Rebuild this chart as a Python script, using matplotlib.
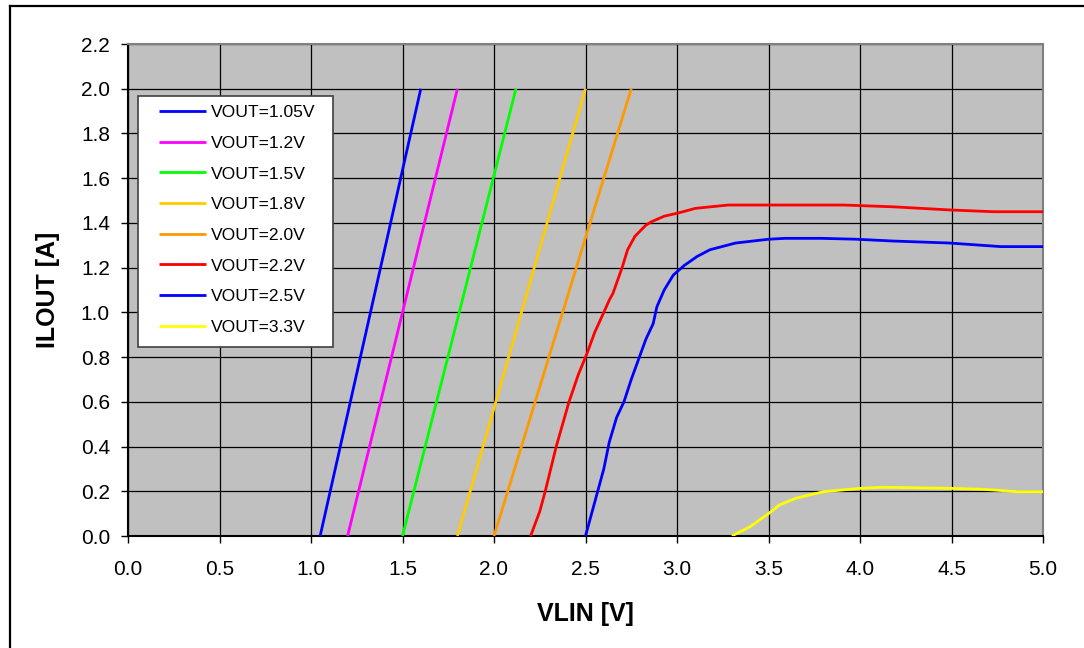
import matplotlib.pyplot as plt
from matplotlib.lines import Line2D
from matplotlib.patches import Rectangle

plt.rcParams['font.family'] = ['Liberation Sans', 'DejaVu Sans']

labels = ['VOUT=1.05V', 'VOUT=1.2V', 'VOUT=1.5V', 'VOUT=1.8V',
          'VOUT=2.0V', 'VOUT=2.2V', 'VOUT=2.5V', 'VOUT=3.3V']
colors = ['#0000FF', '#FF00FF', '#00FF00', '#FFCC00',
          '#FF9900', '#FF0000', '#0000FF', '#FFFF00']

# straight ramps (VLIN, ILOUT)
v105 = [1.05, 1.60]
i105 = [0.0, 2.0]
v12 = [1.20, 1.80]
i12 = [0.0, 2.0]
v15 = [1.50, 2.12]
i15 = [0.0, 2.0]
v18 = [1.80, 2.50]
i18 = [0.0, 2.0]
v20 = [2.00, 2.75]
i20 = [0.0, 2.0]

# current limited curves
v22 = [2.20, 2.25, 2.28, 2.34, 2.41, 2.46, 2.51, 2.55, 2.60, 2.63, 2.65, 2.70,
       2.73, 2.77, 2.83, 2.86, 2.93, 3.01, 3.10, 3.28, 3.52, 3.91, 4.18, 4.49,
       4.73, 5.00]
i22 = [0.0, 0.11, 0.20, 0.40, 0.60, 0.72, 0.82, 0.91, 1.00, 1.055, 1.085, 1.20,
       1.28, 1.34, 1.39, 1.405, 1.43, 1.445, 1.465, 1.48, 1.48, 1.48, 1.472,
       1.458, 1.45, 1.45]

v25 = [2.50, 2.56, 2.60, 2.63, 2.67, 2.71, 2.75, 2.79, 2.83, 2.87, 2.89, 2.93,
       2.98, 3.04, 3.11, 3.18, 3.32, 3.50, 3.59, 3.79, 3.98, 4.18, 4.49, 4.77,
       5.00]
i25 = [0.0, 0.18, 0.30, 0.42, 0.53, 0.60, 0.70, 0.79, 0.88, 0.95, 1.025, 1.10,
       1.167, 1.21, 1.25, 1.28, 1.31, 1.327, 1.331, 1.331, 1.327, 1.319, 1.31,
       1.294, 1.294]

v33 = [3.30, 3.40, 3.50, 3.56, 3.65, 3.80, 4.00, 4.13, 4.49, 4.67, 4.86, 5.00]
i33 = [0.0, 0.042, 0.10, 0.139, 0.169, 0.198, 0.213, 0.218, 0.213, 0.209,
       0.198, 0.198]

series = [(v105, i105), (v12, i12), (v15, i15), (v18, i18), (v20, i20),
          (v22, i22), (v25, i25), (v33, i33)]

fig = plt.figure(figsize=(10.84, 6.48), dpi=100)
ax = fig.add_axes([128 / 1084, 1 - 536 / 648, 915 / 1084, 492 / 648])
ax.set_facecolor('#C0C0C0')

for (v, i), c, lab in zip(series, colors, labels):
    ax.plot(v, i, color=c, lw=2.0, label=lab, solid_capstyle='butt', zorder=3)

ax.set_xlim(0, 5.0)
ax.set_ylim(0, 2.2)
ax.set_xticks([x * 0.5 for x in range(11)])
ax.set_yticks([y * 0.2 for y in range(12)])
ax.xaxis.set_major_formatter(plt.FormatStrFormatter('%.1f'))
ax.yaxis.set_major_formatter(plt.FormatStrFormatter('%.1f'))
ax.grid(True, color='black', lw=0.9, zorder=1)
ax.set_axisbelow(True)
ax.tick_params(axis='both', direction='out', length=5, width=1, colors='black',
               labelsize=15)
ax.tick_params(axis='x', pad=12)
ax.tick_params(axis='y', pad=8)

for s in ['left', 'bottom']:
    ax.spines[s].set_color('black')
    ax.spines[s].set_linewidth(1.5)
for s in ['top', 'right']:
    ax.spines[s].set_color('#808080')
    ax.spines[s].set_linewidth(1.5)

ax.set_xlabel('VLIN [V]', fontsize=18, fontweight='bold', labelpad=17)
ax.set_ylabel('ILOUT [A]', fontsize=18, fontweight='bold', labelpad=15)

# legend box drawn separately, entries placed inside it
ax.add_patch(Rectangle((0.0106, 0.3848), 0.2131, 0.5102, transform=ax.transAxes,
                       facecolor='white', edgecolor='#404040', lw=1.2, zorder=4))
leg = ax.legend(loc='upper left', bbox_to_anchor=(0.0342, 0.876), borderaxespad=0,
                fontsize=12.6, frameon=False, handlelength=2.65,
                handletextpad=0.28, labelspacing=0.88, borderpad=0)
leg.set_zorder(5)

# outer frame (cut at right and bottom)
fig.add_artist(Line2D([10 / 1084, 10 / 1084], [0, 1 - 5.5 / 648],
                      transform=fig.transFigure, color='black', lw=1.6))
fig.add_artist(Line2D([10 / 1084, 1], [1 - 5.5 / 648, 1 - 5.5 / 648],
                      transform=fig.transFigure, color='black', lw=1.6))

plt.savefig('out.png', dpi=100)
